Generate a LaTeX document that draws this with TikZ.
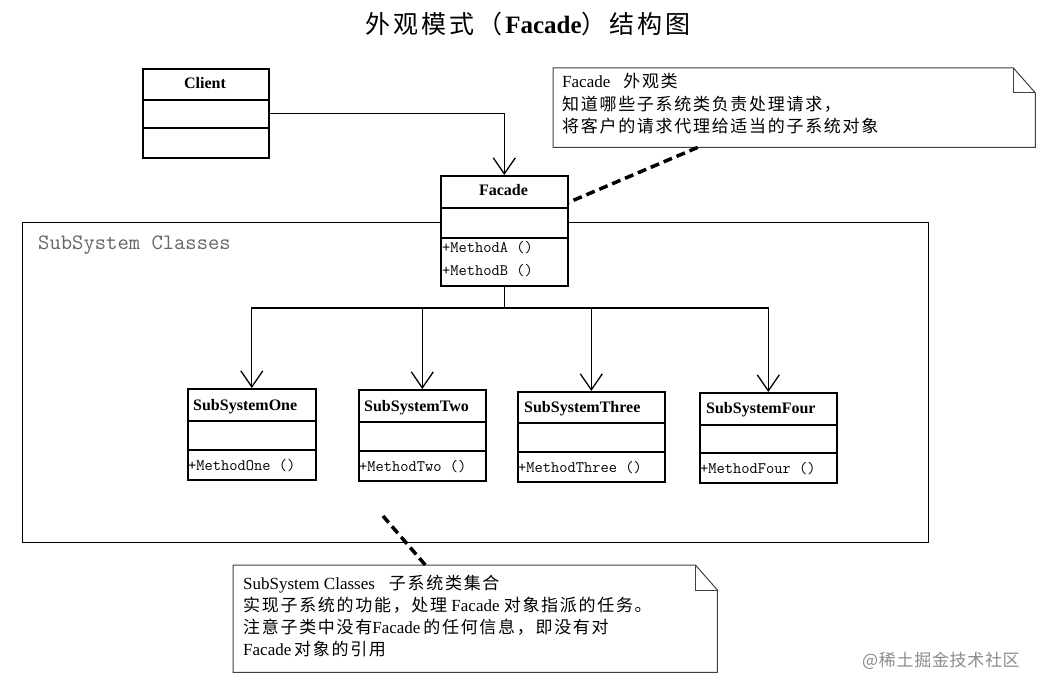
\documentclass[tikz,border=0pt]{standalone}
\usepackage{fontspec}
\setmainfont{Liberation Serif}
\newfontfamily\cjkN[LetterSpace=10]{Noto Sans CJK SC}
\newfontfamily\cjkT[LetterSpace=12]{Noto Sans CJK SC}
\newfontfamily\cjkW[LetterSpace=4]{Noto Sans CJK SC}
\usetikzlibrary{arrows.meta,calc}
\tikzset{
  umlbox/.style={draw, fill=white, line width=1.6pt, anchor=north west, inner sep=0pt},
  sepline/.style={line width=1.6pt},
  cname/.style={font=\bfseries\fontsize{16}{16}\selectfont, anchor=base west, inner sep=0pt},
  mname/.style={font=\ttfamily\fontsize{16}{16}\selectfont, anchor=base west, inner sep=0pt},
  assoc/.style={line width=1.3pt, -{Straight Barb[length=16pt,width=22pt,line width=1.3pt]}},
  conn/.style={line width=1.3pt},
  notebox/.style={draw=none, anchor=north west, inner sep=0pt},
  noteline/.style={draw=black!75, line width=1pt, line join=miter},
  notetext/.style={font=\fontsize{17}{17}\selectfont, anchor=base west, inner sep=0pt},
  anchorline/.style={line width=3.5pt, dash pattern=on 9pt off 5pt},
  framebox/.style={draw, line width=1.4pt, anchor=north west, inner sep=0pt},
}
\begin{document}
\begin{tikzpicture}[x=1pt,y=-1pt]
\path[use as bounding box, fill=white] (0,0) rectangle (1042,690);

% title
\node[anchor=base, inner sep=0pt] (title) at (528,34)
  {\fontsize{25}{25}\selectfont{\cjkT 外观模式（}\textbf{Facade}{\cjkT ）结构图}};

% subsystem frame
\node[framebox, minimum width=906pt, minimum height=320pt] (sub) at (22,222) {};
\node[font=\ttfamily\fontsize{22}{22}\selectfont, text=black!60, anchor=base west, inner sep=0pt] (sublabel) at (38,249) {SubSystem Classes};

% Client
\node[umlbox, minimum width=126pt, minimum height=89pt] (client) at (142,68) {};
\draw[sepline] (client.west |- 0,100) -- (client.east |- 0,100);
\draw[sepline] (client.west |- 0,128) -- (client.east |- 0,128);
\node[cname, anchor=base] (clientname) at (205,89) {Client};

% Facade
\node[umlbox, minimum width=127pt, minimum height=110pt] (facade) at (440,175) {};
\draw[sepline] (facade.west |- 0,208) -- (facade.east |- 0,208);
\draw[sepline] (facade.west |- 0,238) -- (facade.east |- 0,238);
\node[cname, anchor=base] (facadename) at (503.5,196) {Facade};
\node[mname] (ma) at (442,252) {+MethodA ()};
\node[mname] (mb) at (442,275) {+MethodB ()};

% SubSystemOne
\node[umlbox, minimum width=128pt, minimum height=91pt] (one) at (187,388) {};
\draw[sepline] (one.west |- 0,421) -- (one.east |- 0,421);
\draw[sepline] (one.west |- 0,450) -- (one.east |- 0,450);
\node[cname] (onename) at (193,410) {SubSystemOne};
\node[mname] (onem) at (188,470) {+MethodOne ()};

% SubSystemTwo
\node[umlbox, minimum width=127pt, minimum height=91pt] (two) at (358,389) {};
\draw[sepline] (two.west |- 0,422) -- (two.east |- 0,422);
\draw[sepline] (two.west |- 0,451) -- (two.east |- 0,451);
\node[cname] (twoname) at (364,411) {SubSystemTwo};
\node[mname] (twom) at (359,471) {+MethodTwo ()};

% SubSystemThree
\node[umlbox, minimum width=147pt, minimum height=90pt] (three) at (517,391) {};
\draw[sepline] (three.west |- 0,423) -- (three.east |- 0,423);
\draw[sepline] (three.west |- 0,452) -- (three.east |- 0,452);
\node[cname] (threename) at (524,412) {SubSystemThree};
\node[mname] (threem) at (518,472) {+MethodThree ()};

% SubSystemFour
\node[umlbox, minimum width=137pt, minimum height=90pt] (four) at (699,392) {};
\draw[sepline] (four.west |- 0,425) -- (four.east |- 0,425);
\draw[sepline] (four.west |- 0,453) -- (four.east |- 0,453);
\node[cname] (fourname) at (706,413) {SubSystemFour};
\node[mname] (fourm) at (700,473) {+MethodFour ()};

% connectors
\draw[assoc] (client.east) -| (facade.north);
\coordinate (bus) at (facade.south |- 0,308);
\draw[conn] (facade.south) -- (bus);
\draw[assoc] (bus) -| (one.north);
\draw[assoc] (bus) -| (two.north);
\draw[assoc] (bus) -| (three.north);
\draw[assoc] (bus) -| (four.north);

% note 1
\node[notebox, minimum width=482pt, minimum height=79pt] (note1) at (553,68) {};
\draw[noteline, fill=white] (note1.north west) -- ($(note1.north east)+(-22,0)$) -- ($(note1.north east)+(0,25)$) -- (note1.south east) -- (note1.south west) -- cycle;
\draw[noteline] ($(note1.north east)+(-22,0)$) -- ($(note1.north east)+(-22,25)$) -- ($(note1.north east)+(0,25)$);
\node[notetext] (n1a) at (562,88) {Facade\hspace{13pt}{\cjkN 外观类}};
\node[notetext] (n1b) at (562,111) {{\cjkN 知道哪些子系统类负责处理请求，}};
\node[notetext] (n1c) at (562,133) {{\cjkN 将客户的请求代理给适当的子系统对象}};
\draw[anchorline] ($(note1.south west)!0.3!(note1.south east)$) -- ($(facade.north east)!0.245!(facade.south east)$);

% note 2
\node[notebox, minimum width=484pt, minimum height=107pt] (note2) at (233,565) {};
\draw[noteline, fill=white] (note2.north west) -- ($(note2.north east)+(-22,0)$) -- ($(note2.north east)+(0,25)$) -- (note2.south east) -- (note2.south west) -- cycle;
\draw[noteline] ($(note2.north east)+(-22,0)$) -- ($(note2.north east)+(-22,25)$) -- ($(note2.north east)+(0,25)$);
\node[notetext] (n2a) at (243,589) {SubSystem Classes\hspace{14pt}{\cjkN 子系统类集合}};
\node[notetext] (n2b) at (243,611) {{\cjkN 实现子系统的功能，处理} Facade {\cjkN 对象指派的任务。}};
\node[notetext] (n2c) at (243,633) {{\cjkN 注意子类中没有}Facade\,{\cjkN 的任何信息，即没有对}};
\node[notetext] (n2d) at (243,655) {Facade\,{\cjkN 对象的引用}};
\coordinate (n2end) at (383,516);
\draw[anchorline] ($(note2.north west)!0.397!(note2.north east)$) -- (n2end);

% watermark
\node[font=\cjkW\fontsize{17}{17}\selectfont, text=black!45, anchor=base west, inner sep=0pt] (wm) at (862,666) {@稀土掘金技术社区};
\end{tikzpicture}
\end{document}
